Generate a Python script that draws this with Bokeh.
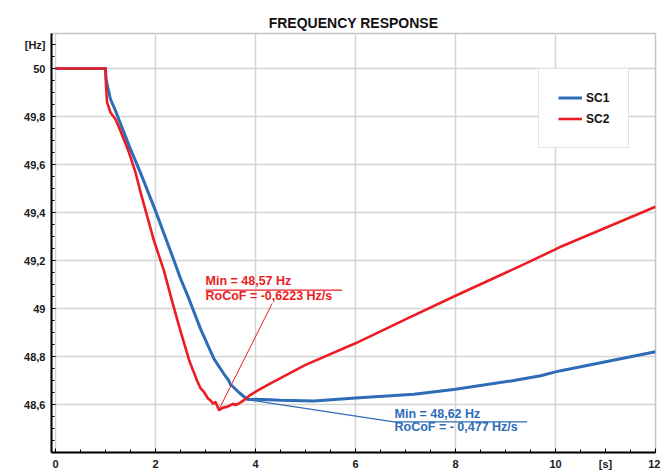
from bokeh.plotting import figure
from bokeh.models import FixedTicker, CustomJSTickFormatter, Range1d, Legend, Label
from bokeh.embed import file_html
from bokeh.resources import INLINE
import json

# ---------------- data ----------------
t_sc1 = [0.0, 1.0, 1.01, 1.03, 1.1, 1.2, 1.33, 1.5, 1.7, 2.0, 2.37, 2.5, 2.67, 2.9,
         3.17, 3.37, 3.47, 3.5, 3.53, 3.67, 3.83, 4.3, 4.5, 5.17, 6.0, 7.17, 8.0, 9.17, 9.7,
         10.08, 12.0]
f_sc1 = [50.0, 50.0, 49.96, 49.935, 49.872, 49.824, 49.754, 49.664, 49.565, 49.407, 49.2,
         49.125, 49.04, 48.915, 48.79, 48.727, 48.698, 48.682, 48.678, 48.65, 48.622, 48.62,
         48.618, 48.615, 48.627, 48.643, 48.664, 48.70, 48.72, 48.74, 48.82]

t_sc2 = [0.0, 1.0, 1.01, 1.03, 1.1, 1.2, 1.3, 1.47, 1.6, 1.7, 1.97, 2.17, 2.33, 2.48, 2.68,
         2.83, 2.9, 2.97, 3.05, 3.1, 3.15, 3.2, 3.27, 3.35, 3.43, 3.5, 3.55, 3.6, 3.67, 3.77,
         3.87, 4.03, 4.3, 4.5, 5.0, 6.0, 7.0, 8.0, 9.43, 10.08, 12.0]
f_sc2 = [50.0, 50.0, 49.93, 49.86, 49.817, 49.789, 49.74, 49.65, 49.567, 49.485, 49.282,
         49.157, 49.032, 48.92, 48.78, 48.70, 48.668, 48.652, 48.625, 48.617, 48.604, 48.61,
         48.577, 48.587, 48.59, 48.597, 48.603, 48.598, 48.604, 48.618, 48.636, 48.657,
         48.688, 48.71, 48.765, 48.855, 48.955, 49.053, 49.19, 49.255, 49.424]

series_names = ["SC1", "SC2"]
series_colors = ["#2e6cb8", "#ec1c24"]

x_ticks = [0, 2, 4, 6, 8, 10, 11, 12]
x_tick_labels = ["0", "2", "4", "6", "8", "10", "[s]", "12"]
y_ticks = [48.6, 48.8, 49.0, 49.2, 49.4, 49.6, 49.8, 50.0, 50.1]
y_tick_labels = ["48,6", "48,8", "49", "49,2", "49,4", "49,6", "49,8", "50", "[Hz]"]

ann_sc2 = ["Min = 48,57 Hz", "RoCoF = -0,6223 Hz/s"]
ann_sc1 = ["Min = 48,62 Hz", "RoCoF = - 0,477 Hz/s"]

FONT = "Liberation Sans"

# ---------------- figure ----------------
p = figure(width=660, height=472, output_backend="svg", toolbar_location=None,
           x_range=Range1d(-0.08, 12.0), y_range=Range1d(48.4, 50.146),
           min_border_left=51, min_border_right=5, min_border_top=33, min_border_bottom=20,
           background_fill_color="white", border_fill_color="white")

p.title.text = "FREQUENCY RESPONSE"
p.title.align = "center"
p.title.text_font = FONT
p.title.text_font_size = "14px"
p.title.text_font_style = "bold"
p.title.text_color = "#111111"
p.title.standoff = 6

p.outline_line_color = "#c4c4c4"
p.outline_line_width = 1.5

x_minor = [i * 0.5 for i in range(0, 25)]
y_minor = [round(48.4 + i * 0.05, 3) for i in range(0, 36)]

def make_formatter(ticks, labels):
    mapping = {f"{t:.2f}": lab for t, lab in zip(ticks, labels)}
    return CustomJSTickFormatter(code="""
        const m = %s;
        const k = tick.toFixed(2);
        return (k in m) ? m[k] : '';
    """ % json.dumps(mapping))

p.xaxis.ticker = FixedTicker(ticks=x_ticks, minor_ticks=x_minor)
p.yaxis.ticker = FixedTicker(ticks=y_ticks, minor_ticks=y_minor)
p.xaxis.formatter = make_formatter(x_ticks, x_tick_labels)
p.yaxis.formatter = make_formatter(y_ticks, y_tick_labels)

for ax in (p.xaxis, p.yaxis):
    ax.axis_line_color = "black"
    ax.axis_line_width = 2
    ax.major_tick_line_color = "black"
    ax.minor_tick_line_color = "black"
    ax.major_tick_in = 4
    ax.major_tick_out = 0
    ax.minor_tick_in = 3
    ax.minor_tick_out = 0
    ax.major_label_text_font = FONT
    ax.major_label_text_font_size = "11px"
    ax.major_label_text_font_style = "bold"
    ax.major_label_text_color = "#1a1a1a"
p.xaxis.major_label_standoff = 5
p.yaxis.major_label_standoff = 6

p.xgrid.ticker = FixedTicker(ticks=[0, 2, 4, 6, 8, 10, 12])
p.ygrid.ticker = FixedTicker(ticks=[48.6, 48.8, 49.0, 49.2, 49.4, 49.6, 49.8, 50.0])
for g in (p.xgrid, p.ygrid):
    g.grid_line_color = "#d4d4d4"
    g.grid_line_width = 1.5

# ---------------- curves ----------------
r1 = p.line(t_sc1, f_sc1, line_color=series_colors[0], line_width=3, line_join="round")
r2 = p.line(t_sc2, f_sc2, line_color=series_colors[1], line_width=2.6, line_join="round")

# ---------------- annotations ----------------
red, blue = series_colors[1], series_colors[0]
p.line([3.266, 4.334], [48.578, 49.021], line_color=red, line_width=1)
p.line([3.0, 5.734], [49.077, 49.077], line_color=red, line_width=1.2)
p.line([3.834, 6.766, 9.434], [48.62, 48.528, 48.528], line_color=blue, line_width=1.2)

def add_label(x, y, text, color):
    p.add_layout(Label(x=x, y=y, text=text, text_font=FONT, text_font_size="12.5px",
                       text_font_style="bold", text_color=color,
                       text_baseline="alphabetic", text_align="left"))

add_label(3.0, 49.115, ann_sc2[0], red)
add_label(3.0, 49.053, ann_sc2[1], red)
add_label(6.78, 48.561, ann_sc1[0], blue)
add_label(6.78, 48.507, ann_sc1[1], blue)

# ---------------- legend ----------------
legend = Legend(items=[(series_names[0], [r1]), (series_names[1], [r2])],
                location=(487, 304), margin=0, padding=19, spacing=2,
                glyph_width=24, glyph_height=19, label_height=19, label_standoff=4,
                label_text_font=FONT, label_text_font_size="12px",
                label_text_font_style="bold", label_text_color="#111111",
                border_line_color="#c8c8c8", border_line_width=1.5,
                background_fill_color="white", background_fill_alpha=1.0)
p.add_layout(legend)

open("out.html", "w").write(file_html(p, INLINE))
